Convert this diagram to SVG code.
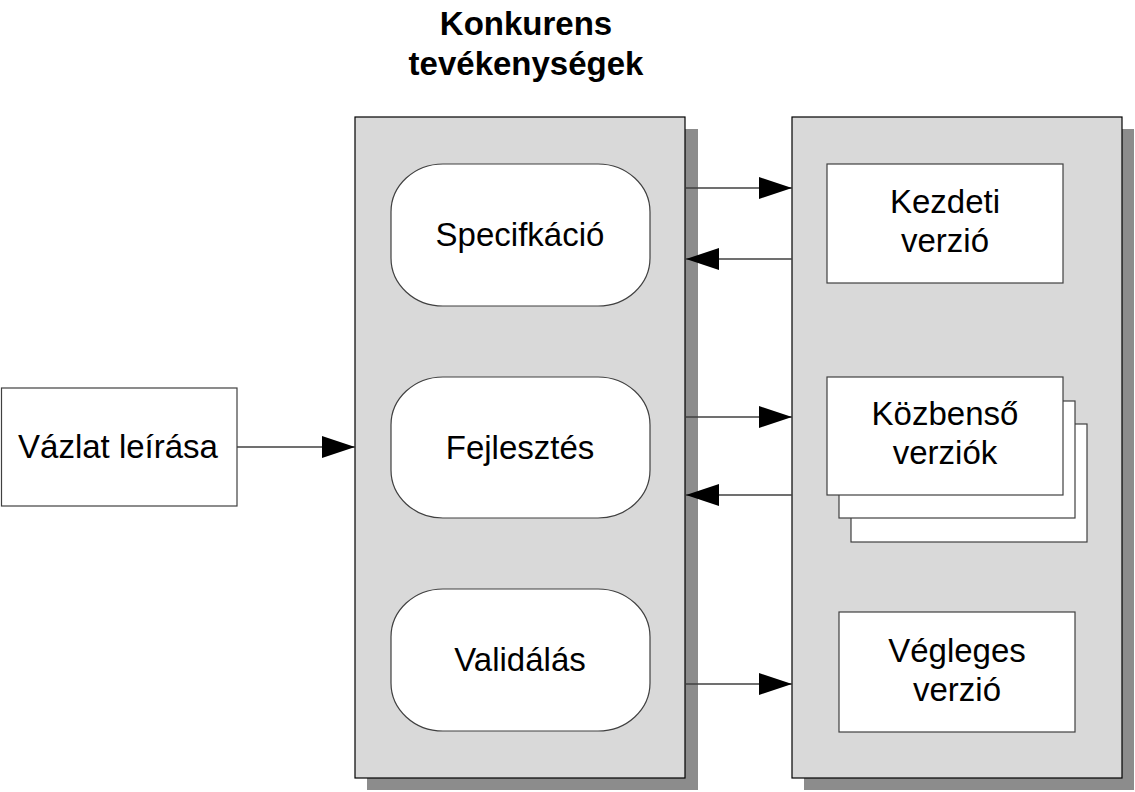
<svg xmlns="http://www.w3.org/2000/svg" width="1135" height="792" viewBox="0 0 1135 792">
<defs>
<style>
.txt{font-family:"Liberation Sans",Arial,sans-serif;font-size:33px;fill:#000;text-anchor:middle}
.title{font-weight:bold}
.panel{fill:#d9d9d9;stroke:#000;stroke-width:1.2}
.shadow{fill:#8c8c8c}
.box{fill:#fff;stroke:#404040;stroke-width:1.2}
.conn{stroke:#404040;stroke-width:1.3;fill:none;marker-end:url(#ah)}
</style>
<marker id="ah" markerUnits="userSpaceOnUse" markerWidth="34" markerHeight="24" refX="33" refY="11" orient="auto">
<path d="M0,0 L33,11 L0,22 z" fill="#000"/>
</marker>
</defs>
<rect width="1135" height="792" fill="#fff"/>
<text class="txt title" x="526" y="35">Konkurens</text>
<text class="txt title" x="526" y="75">tevékenységek</text>

<g id="panel-activities">
<rect class="shadow" x="367" y="129" width="331" height="661"/>
<rect class="panel" x="355" y="117" width="330" height="661"/>
</g>
<g id="panel-versions">
<rect class="shadow" x="804" y="129" width="330" height="661"/>
<rect class="panel" x="792" y="117" width="330" height="661"/>
</g>

<g id="vazlat">
<rect class="box" x="1.5" y="388" width="235.5" height="118"/>
<text class="txt" x="118" y="458">Vázlat leírása</text>
</g>
<g id="specifikacio">
<rect class="box" x="391" y="164" width="259" height="142" rx="52" ry="48" stroke="#000"/>
<text class="txt" x="520" y="246">Specifkáció</text>
</g>
<g id="fejlesztes">
<rect class="box" x="391" y="377" width="259" height="141" rx="52" ry="48"/>
<text class="txt" x="520" y="459">Fejlesztés</text>
</g>
<g id="validalas">
<rect class="box" x="391" y="589" width="259" height="142" rx="52" ry="48"/>
<text class="txt" x="520" y="671">Validálás</text>
</g>

<g id="kezdeti">
<rect class="box" x="827" y="164" width="236" height="119"/>
<text class="txt" x="945" y="213">Kezdeti</text>
<text class="txt" x="945" y="252">verzió</text>
</g>
<g id="kozbenso">
<rect class="box" x="851" y="424" width="236" height="118"/>
<rect class="box" x="839" y="401" width="236" height="117"/>
<rect class="box" x="827" y="377" width="236" height="118"/>
<text class="txt" x="945" y="425">Közbenső</text>
<text class="txt" x="945" y="464">verziók</text>
</g>
<g id="vegleges">
<rect class="box" x="839" y="612" width="236" height="120"/>
<text class="txt" x="957" y="662">Végleges</text>
<text class="txt" x="957" y="701">verzió</text>
</g>

<g id="connectors">
<line class="conn" x1="237" y1="447" x2="355" y2="447"/>
<line class="conn" x1="686" y1="188" x2="792" y2="188"/>
<line class="conn" x1="792" y1="259" x2="686" y2="259"/>
<line class="conn" x1="686" y1="417" x2="792" y2="417"/>
<line class="conn" x1="792" y1="495" x2="686" y2="495"/>
<line class="conn" x1="686" y1="684" x2="792" y2="684"/>
</g>
</svg>
